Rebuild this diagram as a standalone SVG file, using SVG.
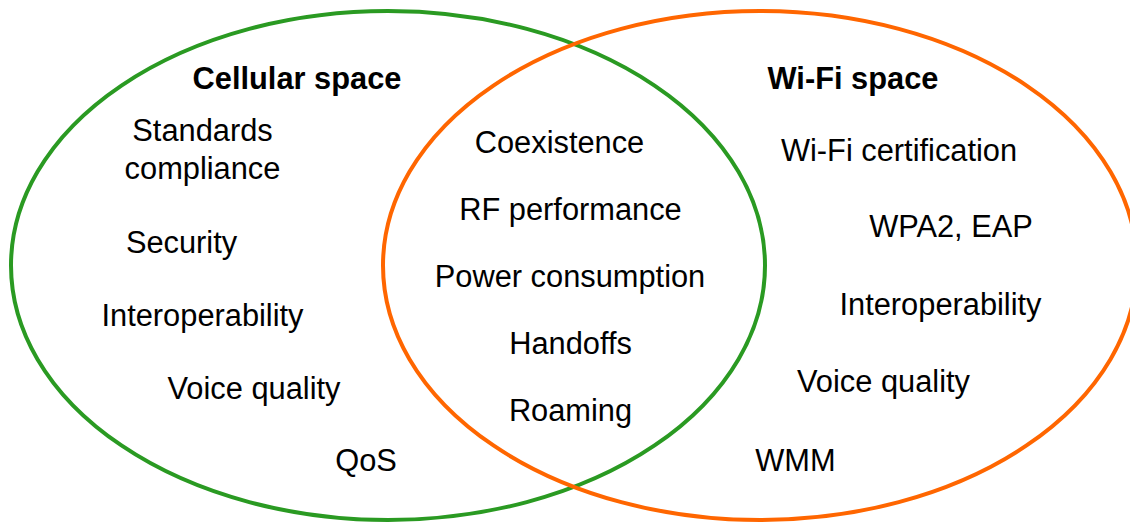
<svg xmlns="http://www.w3.org/2000/svg" width="1130" height="523" viewBox="0 0 1130 523">
<style>
.t{font-family:"Liberation Sans",Arial,sans-serif;font-size:30.8px;fill:#000;text-anchor:middle}
.b{font-weight:bold}
.ring{fill:none;stroke-width:4}
</style>
<rect width="1130" height="523" fill="#fff"/>
<g id="connectors"></g>
<g id="cellular">
<ellipse class="ring" cx="388" cy="265.5" rx="377" ry="254.5" stroke="#2a9a22"/>
</g>
<g id="wifi">
<ellipse class="ring" cx="760" cy="265.5" rx="377" ry="254.5" stroke="#ff6600"/>
</g>
<g id="cellular-labels">
<text class="t b" x="297" y="89">Cellular space</text>
<text class="t" x="202.5" y="141">Standards</text>
<text class="t" x="202.5" y="179">compliance</text>
<text class="t" x="181.5" y="253">Security</text>
<text class="t" x="202.5" y="326">Interoperability</text>
<text class="t" x="254" y="399">Voice quality</text>
<text class="t" x="366" y="471">QoS</text>
</g>
<g id="shared-labels">
<text class="t" x="559.5" y="153">Coexistence</text>
<text class="t" x="570.5" y="220">RF performance</text>
<text class="t" x="570" y="287">Power consumption</text>
<text class="t" x="570.5" y="354">Handoffs</text>
<text class="t" x="570.5" y="421">Roaming</text>
</g>
<g id="wifi-labels">
<text class="t b" x="853" y="89">Wi-Fi space</text>
<text class="t" x="899" y="161">Wi-Fi certification</text>
<text class="t" x="951" y="237">WPA2, EAP</text>
<text class="t" x="940.5" y="315">Interoperability</text>
<text class="t" x="883.5" y="392">Voice quality</text>
<text class="t" x="795.5" y="471">WMM</text>
</g>
</svg>
